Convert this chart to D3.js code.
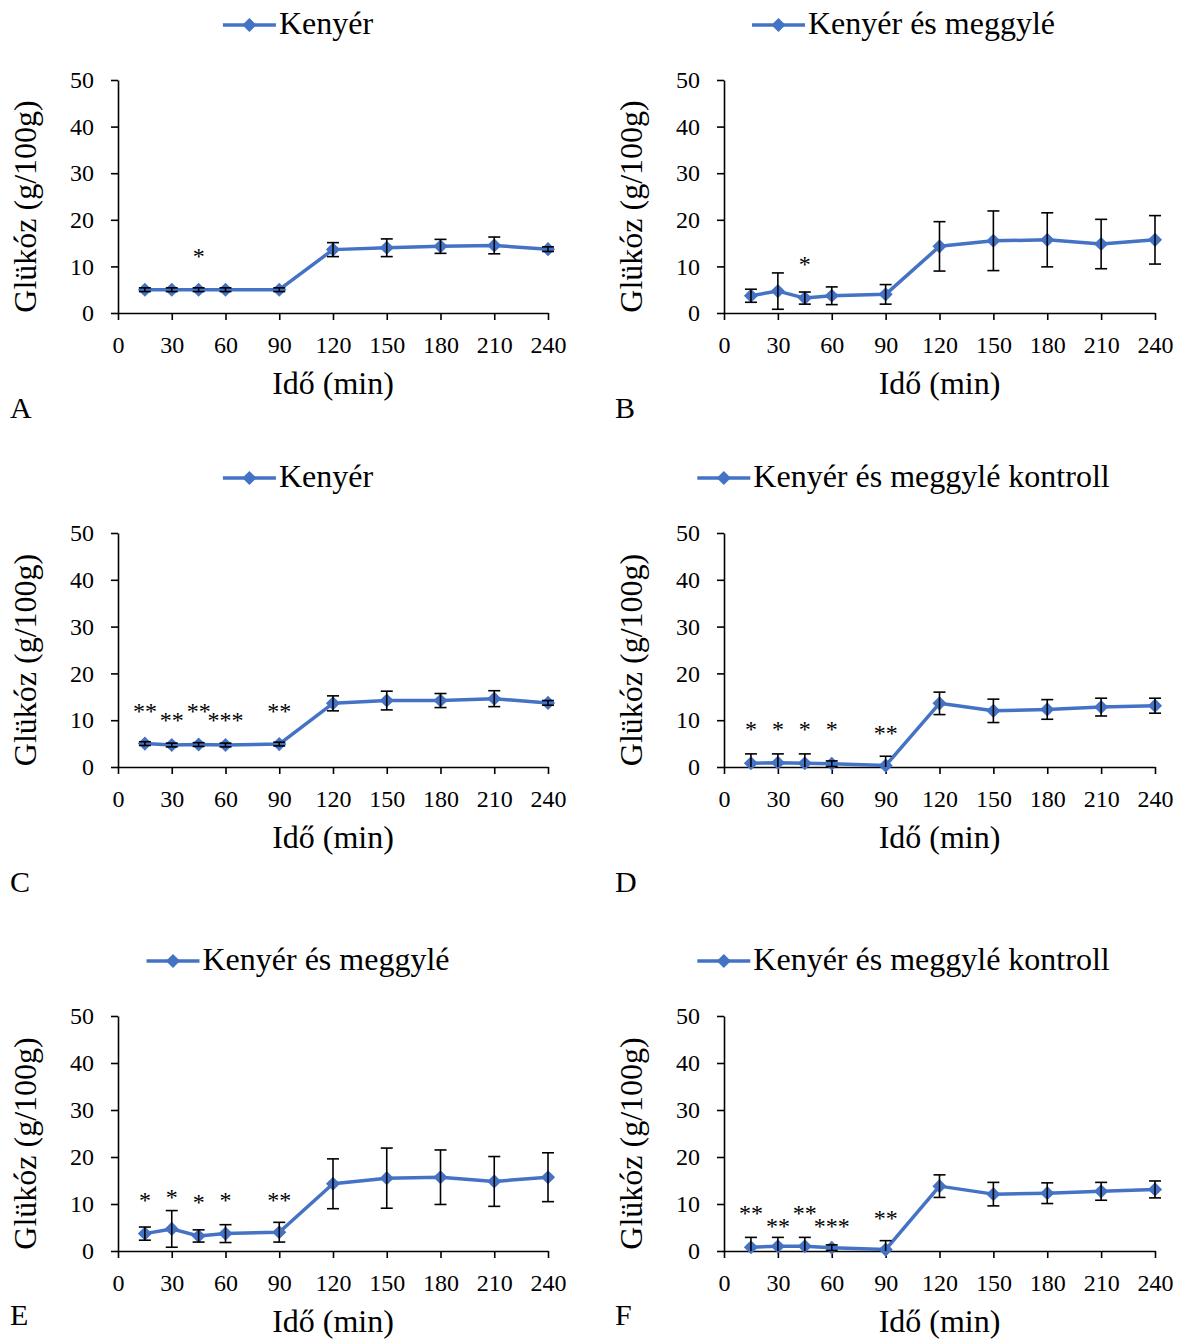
<!DOCTYPE html>
<html>
<head>
<meta charset="utf-8">
<script src="https://cdn.jsdelivr.net/npm/d3@7"></script>
<style>
body { margin: 0; background: #fff; }
text { font-family: "Liberation Serif", "Times New Roman", serif; fill: #000; }
</style>
</head>
<body>
<svg id="chart" width="1181" height="1340"></svg>
<script>
//------------------------------------------------------------
//---------------------------ADATOK---------------------------
var ido = [15, 30, 45, 60, 90, 120, 150, 180, 210, 240];
var xTicks = [0, 30, 60, 90, 120, 150, 180, 210, 240];
var yTicks = [0, 10, 20, 30, 40, 50];

var nevKenyer = "Kenyér";
var nevMeggyle = "Kenyér és meggylé";
var nevKontroll = "Kenyér és meggylé kontroll";

// A - kenyer
var kenyerA = [5.0, 5.0, 5.0, 5.0, 5.0, 13.6, 14.0, 14.3, 14.5, 13.7];
var kenyerA_sd = [0.4, 0.4, 0.4, 0.4, 0.4, 1.5, 1.9, 1.5, 1.8, 0.5];
var csillagA = ["*"];
var csillagA_ido = [45];
var csillagA_y = [13.1];

// B - kenyer es meggyle
var meggyleB = [3.7, 4.7, 3.2, 3.7, 4.0, 14.3, 15.5, 15.7, 14.8, 15.7];
var meggyleB_sd = [1.4, 3.9, 1.3, 1.9, 2.1, 5.3, 6.4, 5.8, 5.3, 5.2];
var csillagB = ["*"];
var csillagB_ido = [45];
var csillagB_y = [11.3];

// C - kenyer
var kenyerC = [5.0, 4.7, 4.8, 4.7, 4.9, 13.6, 14.2, 14.2, 14.6, 13.7];
var kenyerC_sd = [0.4, 0.4, 0.4, 0.4, 0.4, 1.6, 2.0, 1.5, 1.7, 0.5];
var csillagC = ["**", "**", "**", "***", "**"];
var csillagC_ido = [15, 30, 45, 60, 90];
var csillagC_y = [12.8, 10.9, 12.8, 10.9, 12.8];

// D - kontroll
var kontrollD = [0.8, 0.9, 0.8, 0.7, 0.3, 13.6, 12.0, 12.3, 12.8, 13.1];
var kontrollD_sd = [2.0, 1.9, 2.0, 0.6, 2.0, 2.4, 2.5, 2.1, 1.9, 1.6];
var csillagD = ["*", "*", "*", "*", "**"];
var csillagD_ido = [15, 30, 45, 60, 90];
var csillagD_y = [8.9, 8.9, 8.9, 8.9, 8.2];

// E - kenyer es meggyle
var meggyleE = [3.7, 4.7, 3.2, 3.7, 4.0, 14.3, 15.5, 15.7, 14.8, 15.7];
var meggyleE_sd = [1.4, 3.9, 1.3, 1.9, 2.1, 5.3, 6.4, 5.8, 5.3, 5.2];
var csillagE = ["*", "*", "*", "*", "**"];
var csillagE_ido = [15, 30, 45, 60, 90];
var csillagE_y = [11.6, 12.4, 11.2, 11.6, 11.6];

// F - kontroll
var kontrollF = [0.8, 1.0, 1.0, 0.7, 0.3, 13.8, 12.1, 12.3, 12.7, 13.1];
var kontrollF_sd = [2.1, 1.9, 1.9, 0.6, 1.9, 2.4, 2.5, 2.2, 1.9, 1.8];
var csillagF = ["**", "**", "**", "***", "**"];
var csillagF_ido = [15, 30, 45, 60, 90];
var csillagF_y = [9.0, 6.2, 9.0, 6.2, 7.9];

//------------------------------------------------------------
//---------------------------ELRENDEZES-----------------------
var kek = "#4472C4";
var betutipus = "'Liberation Serif', 'Times New Roman', serif";
var svg = d3.select("#chart");

var panelek = [
  {betu: "A", nev: nevKenyer,   atlag: kenyerA,   sd: kenyerA_sd,   cs: csillagA, csIdo: csillagA_ido, csY: csillagA_y,
   x0: 118, x1: 548,  y0: 313,  y50: 80,   legKozep: 298,   betuX: 10,  betuY: 418},
  {betu: "B", nev: nevMeggyle,  atlag: meggyleB,  sd: meggyleB_sd,  cs: csillagB, csIdo: csillagB_ido, csY: csillagB_y,
   x0: 724, x1: 1155, y0: 313,  y50: 80,   legKozep: 903.5, betuX: 615, betuY: 418},
  {betu: "C", nev: nevKenyer,   atlag: kenyerC,   sd: kenyerC_sd,   cs: csillagC, csIdo: csillagC_ido, csY: csillagC_y,
   x0: 118, x1: 548,  y0: 767,  y50: 533,  legKozep: 298,   betuX: 10,  betuY: 892},
  {betu: "D", nev: nevKontroll, atlag: kontrollD, sd: kontrollD_sd, cs: csillagD, csIdo: csillagD_ido, csY: csillagD_y,
   x0: 724, x1: 1155, y0: 767,  y50: 533,  legKozep: 903.5, betuX: 615, betuY: 892},
  {betu: "E", nev: nevMeggyle,  atlag: meggyleE,  sd: meggyleE_sd,  cs: csillagE, csIdo: csillagE_ido, csY: csillagE_y,
   x0: 118, x1: 548,  y0: 1251, y50: 1016, legKozep: 298,   betuX: 10,  betuY: 1325},
  {betu: "F", nev: nevKontroll, atlag: kontrollF, sd: kontrollF_sd, cs: csillagF, csIdo: csillagF_ido, csY: csillagF_y,
   x0: 724, x1: 1155, y0: 1251, y50: 1016, legKozep: 903.5, betuX: 615, betuY: 1325}
];

panelek.forEach(rajzolPanel);

//------------------------------------------------------------
//---------------------------FUGGVENYEK-----------------------
function rajzolPanel(p) {
  var xScale = d3.scaleLinear().domain([0, 240]).range([p.x0, p.x1]);
  var yScale = d3.scaleLinear().domain([0, 50]).range([p.y0, p.y50]);
  var g = svg.append("g");

  rajzolTengelyek(g, p, xScale, yScale);
  rajzolVonal(g, p, xScale, yScale);
  rajzolHibasav(g, p, xScale, yScale);
  rajzolCsillag(g, p, xScale, yScale);
  rajzolJelmagyarazat(g, p);

  // panel betu
  g.append("text")
    .attr("x", p.betuX)
    .attr("y", p.betuY)
    .style("font-family", betutipus)
    .attr("font-size", "30px")
    .text(p.betu);
}

function rajzolTengelyek(g, p, xScale, yScale) {
  var xAxis = d3.axisBottom(xScale).tickValues(xTicks).tickSize(7).tickSizeOuter(0).tickPadding(16);
  var yAxis = d3.axisLeft(yScale).tickValues(yTicks).tickSize(7).tickSizeOuter(0).tickPadding(17);

  var gx = g.append("g").attr("transform", "translate(0," + p.y0 + ")").call(xAxis);
  var gy = g.append("g").attr("transform", "translate(" + p.x0 + ",0)").call(yAxis);

  [gx, gy].forEach(function(a) {
    a.attr("font-family", null);
    a.selectAll("path, line").attr("stroke", "#000").attr("stroke-width", 1.6);
    a.selectAll("text")
      .style("font-family", betutipus)
      .style("font-size", "24px")
      .attr("fill", "#000");
  });

  // tengelycimek
  g.append("text")
    .attr("x", (p.x0 + p.x1) / 2)
    .attr("y", p.y0 + 81)
    .attr("text-anchor", "middle")
    .style("font-family", betutipus)
    .attr("font-size", "32px")
    .text("Idő (min)");

  g.append("text")
    .attr("transform", "translate(" + (p.x0 - 82) + "," + ((p.y0 + p.y50) / 2 + 10) + ") rotate(-90)")
    .attr("text-anchor", "middle")
    .style("font-family", betutipus)
    .attr("font-size", "32px")
    .text("Glükóz (g/100g)");
}

function rajzolVonal(g, p, xScale, yScale) {
  var pontok = ido.map(function(t, i) { return {t: t, v: p.atlag[i]}; });

  var line = d3.line()
    .x(function(d) { return xScale(d.t); })
    .y(function(d) { return yScale(d.v); });

  g.append("path")
    .datum(pontok)
    .attr("d", line)
    .attr("fill", "none")
    .attr("stroke", kek)
    .attr("stroke-width", 3.5)
    .attr("stroke-linejoin", "round");

  g.selectAll(".jel")
    .data(pontok)
    .enter()
    .append("path")
    .attr("class", "jel")
    .attr("d", d3.symbol(d3.symbolSquare, 100))
    .attr("transform", function(d) {
      return "translate(" + xScale(d.t) + "," + yScale(d.v) + ") rotate(45)";
    })
    .attr("fill", kek);
}

function rajzolHibasav(g, p, xScale, yScale) {
  var sav = ido.map(function(t, i) {
    return {t: t, fent: p.atlag[i] + p.sd[i], lent: p.atlag[i] - p.sd[i]};
  });
  var fel = 6;

  var eb = g.selectAll(".hiba")
    .data(sav)
    .enter()
    .append("g")
    .attr("class", "hiba")
    .attr("stroke", "#000")
    .attr("stroke-width", 1.6);

  eb.append("line")
    .attr("x1", function(d) { return xScale(d.t); })
    .attr("x2", function(d) { return xScale(d.t); })
    .attr("y1", function(d) { return yScale(d.fent); })
    .attr("y2", function(d) { return yScale(Math.max(0, d.lent)); });

  eb.append("line")
    .attr("x1", function(d) { return xScale(d.t) - fel; })
    .attr("x2", function(d) { return xScale(d.t) + fel; })
    .attr("y1", function(d) { return yScale(d.fent); })
    .attr("y2", function(d) { return yScale(d.fent); });

  eb.filter(function(d) { return d.lent >= 0; })
    .append("line")
    .attr("x1", function(d) { return xScale(d.t) - fel; })
    .attr("x2", function(d) { return xScale(d.t) + fel; })
    .attr("y1", function(d) { return yScale(d.lent); })
    .attr("y2", function(d) { return yScale(d.lent); });
}

function rajzolCsillag(g, p, xScale, yScale) {
  var cs = p.cs.map(function(c, i) { return {c: c, t: p.csIdo[i], v: p.csY[i]}; });

  g.selectAll(".csillag")
    .data(cs)
    .enter()
    .append("text")
    .attr("class", "csillag")
    .attr("x", function(d) { return xScale(d.t); })
    .attr("y", function(d) { return yScale(d.v) + 12; })
    .attr("text-anchor", "middle")
    .style("font-family", betutipus)
    .attr("font-size", "24px")
    .attr("fill", "#000")
    .text(function(d) { return d.c; });
}

function rajzolJelmagyarazat(g, p) {
  var yLeg = p.y50 - 55;
  var leg = g.append("g");

  leg.append("line")
    .attr("x1", 0).attr("x2", 53)
    .attr("y1", yLeg).attr("y2", yLeg)
    .attr("stroke", kek)
    .attr("stroke-width", 3.5);

  leg.append("path")
    .attr("d", d3.symbol(d3.symbolSquare, 100))
    .attr("transform", "translate(26.5," + yLeg + ") rotate(45)")
    .attr("fill", kek);

  var txt = leg.append("text")
    .attr("x", 56)
    .attr("y", yLeg + 9)
    .style("font-family", betutipus)
    .attr("font-size", "32px")
    .text(p.nev);

  var szel = 56 + txt.node().getComputedTextLength();
  leg.attr("transform", "translate(" + (p.legKozep - szel / 2) + ",0)");
}
</script>
</body>
</html>
